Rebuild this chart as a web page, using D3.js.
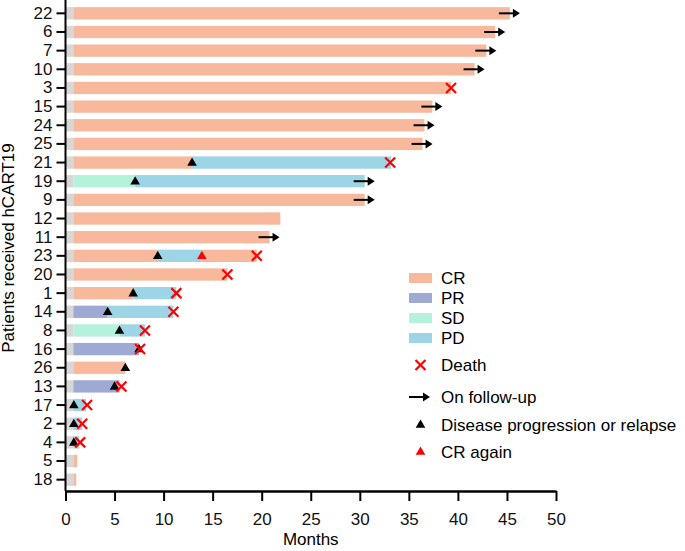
<!DOCTYPE html>
<html>
<head>
<meta charset="utf-8">
<script src="https://cdn.jsdelivr.net/npm/d3@7"></script>
<style>
  body { margin: 0; background: #fff; }
  text { font-family: "Liberation Sans", Arial, sans-serif; }
</style>
</head>
<body>
<div id="chart"></div>
<script>
///////////////////// DATA /////////////////////////
let patients = ["22","6","7","10","3","15","24","25","21","19","9","12","11",
                "23","20","1","14","8","16","26","13","17","2","4","5","18"];

let lead_in = 0.8; // grey part before response

// [patient, start, end, state]
let segments = [
  ["22",0.8,45.3,"CR"], ["6",0.8,43.8,"CR"], ["7",0.8,42.9,"CR"], ["10",0.8,41.7,"CR"],
  ["3",0.8,39.3,"CR"], ["15",0.8,37.4,"CR"], ["24",0.8,36.6,"CR"], ["25",0.8,36.4,"CR"],
  ["21",0.8,12.9,"CR"], ["21",12.9,33.2,"PD"],
  ["19",0.8,7.1,"SD"], ["19",7.1,30.5,"PD"],
  ["9",0.8,30.5,"CR"], ["12",0.8,21.9,"CR"], ["11",0.8,20.8,"CR"],
  ["23",0.8,9.4,"CR"], ["23",9.4,13.9,"PD"], ["23",13.9,19.5,"CR"],
  ["20",0.8,16.5,"CR"],
  ["1",0.8,6.9,"CR"], ["1",6.9,11.3,"PD"],
  ["14",0.8,4.3,"PR"], ["14",4.3,11.0,"PD"],
  ["8",0.8,5.5,"SD"], ["8",5.5,8.1,"PD"],
  ["16",0.8,7.5,"PR"], ["26",0.8,6.1,"CR"], ["13",0.8,5.5,"PR"],
  ["17",0.8,2.1,"PD"], ["2",0.8,1.7,"PD"], ["4",0.8,1.4,"PD"],
  ["5",0.8,1.2,"CR"], ["18",0.8,1.1,"CR"]
];

let progression = [["21",12.9],["19",7.1],["23",9.4],["1",6.9],["14",4.3],["8",5.5],
                   ["16",7.5],["26",6.1],["13",5.0],["17",0.85],["2",0.85],["4",0.85]];
let cr_again = [["23",13.9]];
let deaths = [["3",39.3],["21",33.1],["23",19.5],["20",16.5],["1",11.3],["14",11.0],
              ["8",8.1],["16",7.6],["13",5.7],["17",2.2],["2",1.7],["4",1.5]];
let follow_up = [["22",45.3],["6",43.8],["7",42.9],["10",41.7],["15",37.4],["24",36.6],
                 ["25",36.4],["19",30.5],["9",30.5],["11",20.8]];

let states = ["CR","PR","SD","PD"];
let state_colors = ["#f8b89c","#9ea9d4","#b5f2dc","#9dd4e6"];
let x_ticks = [0,5,10,15,20,25,30,35,40,45,50];

/////////////////////// CHART /////////////////////////////
let width = 685, height = 551;
let fs = "17px";
let svg = d3.select("#chart").append("svg")
  .attr("width", width).attr("height", height);

let x_scale = d3.scaleLinear().domain([0,50]).range([65.5, 556]);
let y_scale = d3.scaleBand().domain(patients).range([4, 489]).paddingInner(0.34).paddingOuter(0.17);
let color = d3.scaleOrdinal().domain(states).range(state_colors);
let yc = p => y_scale(p) + y_scale.bandwidth()/2;

// grey lead-in
svg.append("g").selectAll("rect").data(patients).enter().append("rect")
  .attr("x", x_scale(0)).attr("y", d => y_scale(d))
  .attr("width", x_scale(lead_in) - x_scale(0))
  .attr("height", y_scale.bandwidth())
  .style("fill", "#d7d7d7");

// response segments
svg.append("g").selectAll("rect").data(segments).enter().append("rect")
  .attr("x", d => x_scale(d[1])).attr("y", d => y_scale(d[0]))
  .attr("width", d => x_scale(d[2]) - x_scale(d[1]))
  .attr("height", y_scale.bandwidth())
  .style("fill", d => color(d[3]));

// axes
let y_axis = svg.append("g")
  .attr("transform", "translate(" + x_scale(0) + ",0)")
  .call(d3.axisLeft(y_scale).tickSize(9).tickPadding(4));
y_axis.select(".domain").attr("d", "M0,0V491").style("stroke-width", 2);
y_axis.selectAll(".tick line").style("stroke-width", 2);
y_axis.selectAll("text").style("font-size", fs).attr("fill", "#111");

let x_axis = svg.append("g")
  .attr("transform", "translate(0,491)")
  .call(d3.axisBottom(x_scale).tickValues(x_ticks).tickSize(10).tickPadding(12).tickSizeOuter(0));
x_axis.select(".domain").style("stroke-width", 2.5);
x_axis.selectAll(".tick line").style("stroke-width", 2);
x_axis.selectAll("text").style("font-size", fs).attr("fill", "#111");

svg.append("text").attr("x", (x_scale(0)+x_scale(50))/2).attr("y", 545)
  .attr("text-anchor", "middle").style("font-size", fs).text("Months");
svg.append("text").attr("transform", "translate(14,248) rotate(-90)")
  .attr("text-anchor", "middle").style("font-size", fs).text("Patients received hCART19");

// markers
let tri = d3.symbol().type(d3.symbolTriangle).size(40);
let marker_tri = (g, data, fill) => g.selectAll("path").data(data).enter().append("path")
  .attr("d", tri)
  .attr("transform", d => "translate(" + x_scale(d[1]) + "," + (yc(d[0]) + 0.5) + ")")
  .style("fill", fill);
marker_tri(svg.append("g"), progression, "#000");
marker_tri(svg.append("g"), cr_again, "#ff0000");

let cross = (g, cx, cy) => {
  let r = 5;
  g.append("path")
    .attr("d", `M${cx-r},${cy-r}L${cx+r},${cy+r}M${cx-r},${cy+r}L${cx+r},${cy-r}`)
    .style("stroke", "#ff0000").style("stroke-width", 2.2).style("fill", "none");
};
let death_g = svg.append("g");
deaths.forEach(d => cross(death_g, x_scale(d[1]), yc(d[0])));

let arrow = (g, x0, x1, cy) => {
  g.append("line").attr("x1", x0).attr("x2", x1 - 5).attr("y1", cy).attr("y2", cy)
    .style("stroke", "#000").style("stroke-width", 2);
  g.append("path").attr("d", `M${x1},${cy}L${x1-7},${cy-4.5}L${x1-7},${cy+4.5}Z`).style("fill", "#000");
};
let arrow_g = svg.append("g");
follow_up.forEach(d => arrow(arrow_g, x_scale(d[1]) - 11, x_scale(d[1]) + 10, yc(d[0])));

// legend
let leg = svg.append("g");
let leg_x = 409, text_x = 441;
let swatch_y = [278, 298, 318, 338];
states.forEach((s, i) => {
  leg.append("rect").attr("x", leg_x).attr("y", swatch_y[i] - 5).attr("width", 23).attr("height", 10)
    .style("fill", color(s));
  leg.append("text").attr("x", text_x).attr("y", swatch_y[i] + 6).style("font-size", fs).text(s);
});
cross(leg, 420.5, 365);
leg.append("text").attr("x", text_x).attr("y", 371).style("font-size", fs).text("Death");
arrow(leg, 409, 430, 397);
leg.append("text").attr("x", text_x).attr("y", 403).style("font-size", fs).text("On follow-up");
leg.append("path").attr("d", tri).attr("transform", "translate(420.5,425)").style("fill", "#000");
leg.append("text").attr("x", text_x).attr("y", 431).style("font-size", fs).text("Disease progression or relapse");
leg.append("path").attr("d", tri).attr("transform", "translate(420.5,452)").style("fill", "#ff0000");
leg.append("text").attr("x", text_x).attr("y", 458).style("font-size", fs).text("CR again");
</script>
</body>
</html>
